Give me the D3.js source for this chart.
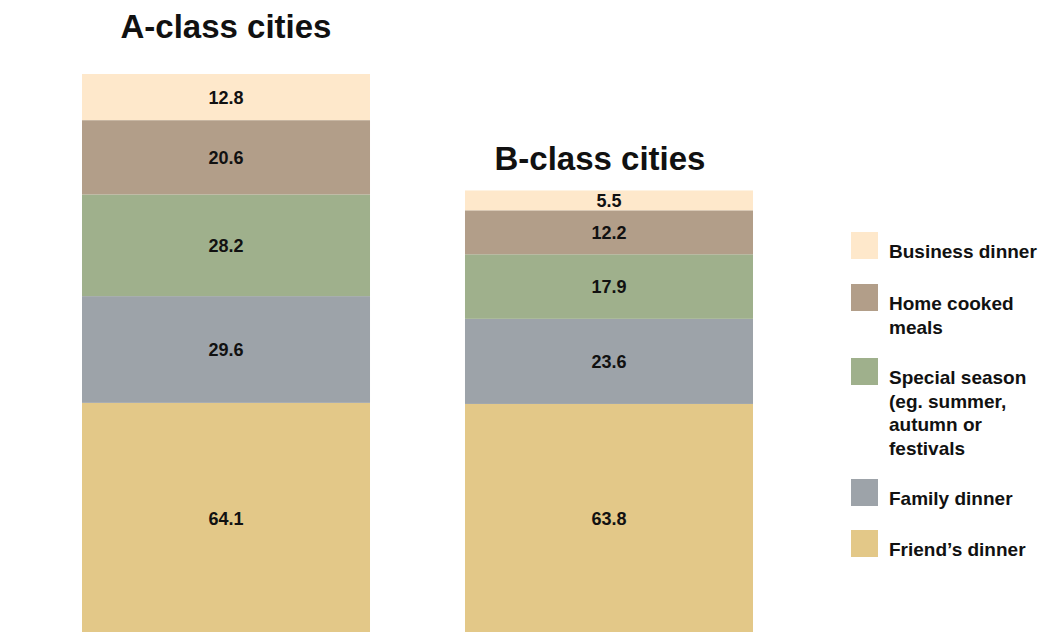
<!DOCTYPE html>
<html>
<head>
    <title>Dinner occasions</title>
    <script src="https://cdn.jsdelivr.net/npm/d3@7"></script>
    <style>
        body { margin: 0; background: #fff; }
        text { font-family: 'Liberation Sans', Arial, sans-serif; font-weight: bold; fill: #111; }
    </style>
</head>
<body>
    <svg width="1043" height="632" id="mainsvg"></svg>
    <script>
        // data
        const cities = ['A-class cities', 'B-class cities'];
        const occasions = ['Friend\u2019s dinner', 'Family dinner', 'Special season', 'Home cooked meals', 'Business dinner'];
        const friendsDinner = [64.1, 63.8];
        const familyDinner = [29.6, 23.6];
        const specialSeason = [28.2, 17.9];
        const homeCooked = [20.6, 12.2];
        const businessDinner = [12.8, 5.5];
        const legendLabels = [
            ['Business dinner'],
            ['Home cooked', 'meals'],
            ['Special season', '(eg. summer,', 'autumn or', 'festivals'],
            ['Family dinner'],
            ['Friend\u2019s dinner']
        ];

        const svg = d3.select('#mainsvg');
        const width = +svg.attr('width');
        const height = +svg.attr('height');

        const series = [friendsDinner, familyDinner, specialSeason, homeCooked, businessDinner];
        const rows = cities.map((c, i) => {
            const r = { city: c };
            occasions.forEach((o, k) => { r[o] = series[k][i]; });
            return r;
        });

        const color = d3.scaleOrdinal()
            .domain(occasions)
            .range(['#e3c888', '#9da3a9', '#9fb08c', '#b29e89', '#fee8cb']);

        const stacked = d3.stack().keys(occasions)(rows);
        const totals = rows.map(r => d3.sum(occasions, o => r[o]));

        const xScale = d3.scaleBand()
            .domain(cities)
            .range([82, 753])
            .paddingInner(0.248)
            .paddingOuter(0);

        const yScale = d3.scaleLinear()
            .domain([0, d3.max(totals)])
            .range([height + 2, 74]);

        const g = svg.append('g');

        g.selectAll('.layer').data(stacked).join('g')
            .attr('class', 'layer')
            .attr('fill', d => color(d.key))
            .selectAll('rect').data(d => d).join('rect')
            .attr('x', d => xScale(d.data.city))
            .attr('width', xScale.bandwidth())
            .attr('y', d => yScale(d[1]))
            .attr('height', d => yScale(d[0]) - yScale(d[1]));

        g.selectAll('.layerlabels').data(stacked).join('g')
            .attr('class', 'layerlabels')
            .selectAll('text').data(d => d).join('text')
            .attr('x', d => xScale(d.data.city) + xScale.bandwidth() / 2)
            .attr('y', d => (yScale(d[0]) + yScale(d[1])) / 2)
            .attr('dy', '0.36em')
            .attr('text-anchor', 'middle')
            .attr('font-size', '18px')
            .text(d => (d[1] - d[0]).toFixed(1));

        // titles over each bar
        const titleGap = [36, 20];
        const titleShift = [0, -9];
        g.selectAll('.title').data(cities).join('text')
            .attr('class', 'title')
            .attr('x', (d, i) => xScale(d) + xScale.bandwidth() / 2 + titleShift[i])
            .attr('y', (d, i) => yScale(totals[i]) - titleGap[i])
            .attr('text-anchor', 'middle')
            .attr('font-size', '33px')
            .text(d => d);

        // legend
        const legendTops = [232, 284, 358, 479, 530];
        const lg = svg.append('g').attr('transform', 'translate(851, 0)');
        const legendKeys = occasions.slice().reverse();
        const items = lg.selectAll('.legenditem').data(legendKeys).join('g')
            .attr('class', 'legenditem')
            .attr('transform', (d, i) => `translate(0, ${legendTops[i]})`);
        items.append('rect')
            .attr('width', 27)
            .attr('height', 27)
            .attr('fill', d => color(d));
        items.append('text')
            .attr('x', 38)
            .attr('y', 26)
            .attr('font-size', '19px')
            .selectAll('tspan').data((d, i) => legendLabels[i]).join('tspan')
            .attr('x', 38)
            .attr('dy', (d, i) => i === 0 ? 0 : 23.5)
            .text(d => d);
    </script>
</body>
</html>
